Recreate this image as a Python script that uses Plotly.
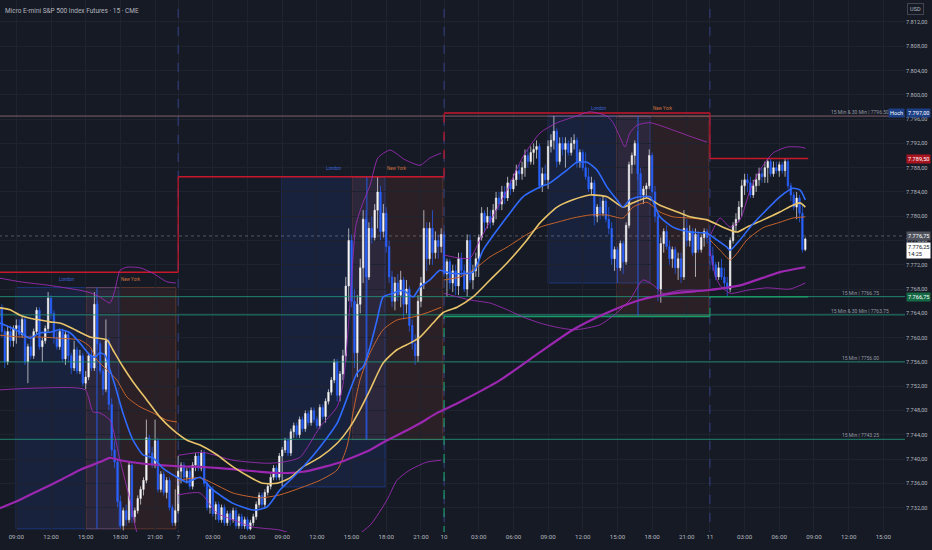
import plotly.graph_objects as go

# MES 15 min bars, bar 0 = 07:30 on the 6th. no bars 23:00-00:00 and over the weekend
# (open, high, low, close)
BARS_6 = [
    (7763.5, 7766, 7762.5, 7765), (7765, 7765.5, 7760, 7761), (7761, 7761.5, 7755, 7756), (7756, 7762, 7755.5, 7761),
    (7761, 7762, 7758.5, 7759.5), (7759.5, 7762, 7758.5, 7761.5), (7761.5, 7763, 7759, 7762), (7762, 7763, 7760, 7760.5),
    (7760.5, 7763.5, 7760, 7763), (7763, 7763.5, 7755.5, 7756), (7756, 7759, 7752.5, 7758.5), (7758.5, 7760.5, 7756.5, 7757),
    (7757, 7761.5, 7756.5, 7761), (7761, 7765, 7760.5, 7764.5), (7764.5, 7765, 7758, 7758.5), (7758.5, 7760, 7756, 7759.5),
    (7759.5, 7762, 7759, 7761.5), (7761.5, 7767.5, 7761, 7766.5), (7766.5, 7767, 7763, 7764), (7764, 7764.5, 7759, 7760),
    (7760, 7761, 7758, 7758.5), (7758.5, 7761.5, 7758, 7761), (7761, 7761.5, 7756, 7756.5), (7756.5, 7761, 7755.5, 7760.5),
    (7760.5, 7761, 7756, 7757), (7757, 7757.5, 7754, 7755), (7755, 7759.5, 7754.5, 7758), (7758, 7758.5, 7754, 7754.5),
    (7754.5, 7758, 7754, 7757), (7757, 7757.5, 7752, 7752.5), (7752.5, 7754.5, 7751.5, 7753.5), (7753.5, 7757.5, 7753, 7757),
    (7757, 7758, 7754.5, 7755), (7755, 7767.5, 7754.5, 7765.5), (7765.5, 7766, 7758, 7759), (7759, 7759.5, 7754, 7754.5),
    (7754.5, 7755, 7750.5, 7751.5), (7751.5, 7763, 7751, 7759.5), (7759.5, 7760, 7748, 7749), (7749, 7750, 7740.5, 7741.5),
    (7741.5, 7743, 7738.5, 7739.5), (7739.5, 7740, 7732, 7733), (7733, 7734, 7728.5, 7729), (7729, 7732, 7728.25, 7731.5),
    (7731.5, 7732.5, 7729, 7730), (7730, 7739.5, 7729.5, 7739), (7739, 7739.5, 7729.5, 7730.5), (7730.5, 7732, 7729.5, 7731.5),
    (7731.5, 7734, 7731, 7733.5), (7733.5, 7735.5, 7732.5, 7735), (7735, 7737, 7734, 7736.5), (7736.5, 7746.5, 7736, 7743.5),
    (7743.5, 7744, 7740, 7741), (7741, 7742, 7738.5, 7739), (7739, 7746.5, 7738.5, 7743), (7743, 7743.5, 7734.5, 7735),
    (7735, 7738, 7734.5, 7737.5), (7737.5, 7738, 7734, 7734.5), (7734.5, 7737, 7733.5, 7736.5), (7736.5, 7737, 7731.5, 7732),
    (7732, 7732.5, 7729, 7729.5), (7729.5, 7735, 7729, 7731.5),
]
BARS_7 = [
    (7731.5, 7740.5, 7731, 7738), (7738, 7739.5, 7736, 7739), (7739, 7739.5, 7736.5, 7737), (7737, 7738.5, 7736, 7738),
    (7738, 7738.5, 7735, 7735.5), (7735.5, 7739.5, 7735, 7739), (7739, 7741, 7738, 7740.5), (7740.5, 7741, 7738, 7738.5),
    (7738.5, 7741.5, 7738, 7741), (7741, 7741.5, 7735.5, 7736), (7736, 7736.5, 7731.5, 7732), (7732, 7735.5, 7731, 7735),
    (7735, 7735.5, 7730.5, 7731), (7731, 7733, 7730, 7732.5), (7732.5, 7733, 7729.5, 7730), (7730, 7732.5, 7729.5, 7732),
    (7732, 7732.5, 7729, 7729.5), (7729.5, 7731.5, 7729, 7731), (7731, 7731.5, 7729, 7730), (7730, 7732, 7729.5, 7731.5),
    (7731.5, 7732, 7728.5, 7729), (7729, 7731, 7728.5, 7730.5), (7730.5, 7731, 7728.5, 7729), (7729, 7730.5, 7728.5, 7730),
    (7730, 7730.5, 7728.25, 7728.5), (7728.5, 7730, 7728.25, 7729.5), (7729.5, 7731, 7729, 7730.5), (7730.5, 7733, 7730, 7732.5),
    (7732.5, 7734.5, 7732, 7734), (7734, 7734.5, 7732, 7732.5), (7732.5, 7735, 7732, 7734.5), (7734.5, 7736, 7734, 7735.5),
    (7735.5, 7737.5, 7735, 7737), (7737, 7739, 7736.5, 7738.5), (7738.5, 7739, 7736.5, 7737), (7737, 7741, 7736.5, 7740.5),
    (7740.5, 7742, 7735.5, 7741.5), (7741.5, 7743.5, 7741, 7743), (7743, 7743.5, 7740.5, 7741), (7741, 7745, 7740.5, 7744.5),
    (7744.5, 7746, 7743.5, 7745.5), (7745.5, 7746, 7743.5, 7744), (7744, 7747, 7743.5, 7746.5), (7746.5, 7747, 7744.5, 7745),
    (7745, 7748, 7744.5, 7747.5), (7747.5, 7748, 7745.5, 7746), (7746, 7748.5, 7745.5, 7748), (7748, 7748.5, 7746, 7746.5),
    (7746.5, 7747, 7745, 7745.5), (7745.5, 7749, 7745, 7748.5), (7748.5, 7749, 7746.5, 7747), (7747, 7750, 7746, 7749.5),
    (7749.5, 7751.5, 7749, 7751), (7751, 7753.5, 7750.5, 7753), (7753, 7756.5, 7752.5, 7756), (7756, 7756.5, 7749.5, 7750.5),
    (7750.5, 7754.5, 7749.5, 7754), (7754, 7758, 7753, 7757), (7757, 7770, 7756, 7768.5), (7768.5, 7778, 7766, 7776),
    (7776, 7777, 7765, 7766), (7766, 7768, 7755, 7757.5), (7757.5, 7767, 7753.5, 7765.5), (7765.5, 7773, 7764, 7771.5),
    (7771.5, 7781, 7769, 7779.5), (7779.5, 7781, 7743.25, 7770), (7770, 7779, 7769.5, 7778), (7778, 7780, 7775.5, 7776.5),
    (7776.5, 7782, 7776, 7781), (7781, 7786.5, 7778, 7784), (7784, 7785, 7776, 7777.5), (7777.5, 7782, 7776.5, 7780.5),
    (7780.5, 7781.5, 7774, 7775), (7775, 7776, 7769, 7770), (7770, 7771, 7765, 7766), (7766, 7770, 7764.5, 7769),
    (7769, 7770.5, 7766, 7767), (7767, 7771, 7765, 7769.5), (7769.5, 7770, 7763, 7765.5), (7765.5, 7769.5, 7764, 7768),
    (7768, 7768.5, 7761, 7762), (7762, 7763, 7758, 7759), (7759, 7760.5, 7755.5, 7757), (7757, 7767, 7756, 7766),
    (7766, 7770, 7765, 7769), (7769, 7781, 7768, 7778), (7778, 7779, 7771, 7773), (7773, 7779, 7772, 7778),
    (7778, 7781, 7772, 7774), (7774, 7777.5, 7773, 7776), (7776, 7777, 7773, 7775), (7775, 7778, 7774, 7777),
]
BARS_10 = [
    (7777, 7777.5, 7770, 7770.5), (7770.5, 7773, 7766.75, 7772.5), (7772.5, 7773, 7768, 7769), (7769, 7772, 7767.5, 7771),
    (7771, 7772, 7767, 7768.5), (7768.5, 7774, 7767, 7773), (7773, 7774, 7770, 7771), (7771, 7772, 7767.5, 7768),
    (7768, 7777, 7766.75, 7776), (7776, 7777, 7769, 7769.5), (7769.5, 7772, 7768, 7771), (7771, 7774, 7770, 7773),
    (7773, 7777, 7770, 7776.5), (7776.5, 7781.5, 7776, 7780.5), (7780.5, 7781, 7777.5, 7779), (7779, 7781.5, 7778, 7780),
    (7780, 7781, 7778, 7779), (7779, 7782, 7778.5, 7781), (7781, 7784, 7779.5, 7783), (7783, 7784, 7781, 7782),
    (7782, 7785, 7781, 7784), (7784, 7785, 7782, 7783), (7783, 7786.5, 7782.5, 7785.5), (7785.5, 7786, 7783.5, 7784.5),
    (7784.5, 7787, 7784, 7786), (7786, 7788.5, 7785, 7787.5), (7787.5, 7788.5, 7786, 7787), (7787, 7789, 7786, 7788),
    (7788, 7791, 7786.5, 7790), (7790, 7791, 7788, 7789), (7789, 7791.5, 7788.5, 7790.5), (7790.5, 7792, 7788.5, 7791),
    (7791, 7792.5, 7789.5, 7791.5), (7791.5, 7792, 7784.5, 7785), (7785, 7788, 7784, 7787), (7787, 7788.5, 7785, 7786),
    (7786, 7792.5, 7784.5, 7791.5), (7791.5, 7793.5, 7790.5, 7792.5), (7792.5, 7796.5, 7791, 7794), (7794, 7794.5, 7788, 7789),
    (7789, 7793, 7788.5, 7792), (7792, 7793, 7790, 7791), (7791, 7793, 7788, 7792), (7792, 7792.5, 7790, 7790.5),
    (7790.5, 7793, 7790, 7792), (7792, 7793.5, 7791, 7792.5), (7792.5, 7793, 7788, 7789), (7789, 7791, 7788, 7790.5),
    (7790.5, 7791, 7787.5, 7788), (7788, 7790.5, 7786, 7786.5), (7786.5, 7788, 7784, 7784.5), (7784.5, 7786.5, 7783.5, 7785.5),
    (7785.5, 7786, 7778.5, 7780), (7780, 7782, 7779, 7781.5), (7781.5, 7783, 7779.5, 7780.5), (7780.5, 7783.5, 7780, 7782.5),
    (7782.5, 7783, 7779, 7779.5), (7779.5, 7781.5, 7777, 7778), (7778, 7779, 7772, 7773), (7773, 7775, 7771, 7774.5),
    (7774.5, 7775, 7769, 7771.5), (7771.5, 7776, 7771, 7775.5), (7775.5, 7776, 7770.5, 7772.5), (7772.5, 7779, 7772, 7778.5),
    (7778.5, 7789, 7778, 7788.5), (7788.5, 7790.5, 7787, 7790), (7790, 7792.5, 7788.5, 7792), (7792, 7794, 7786, 7787),
    (7787, 7788, 7782.5, 7783.5), (7783.5, 7785, 7782, 7784.5), (7784.5, 7785.5, 7783, 7785), (7785, 7791, 7784.5, 7790),
    (7790, 7790.5, 7783, 7784), (7784, 7785, 7779, 7780), (7780, 7781, 7766, 7768), (7768, 7776.5, 7765.75, 7775.5),
    (7775.5, 7778, 7774, 7777.5), (7777.5, 7778.5, 7774.5, 7775), (7775, 7776, 7772, 7773), (7773, 7775, 7771.5, 7774.5),
    (7774.5, 7775, 7770.5, 7771.5), (7771.5, 7774, 7769.5, 7773), (7773, 7774, 7769, 7770), (7770, 7781, 7769.5, 7778),
    (7778, 7779.5, 7775, 7776), (7776, 7778.5, 7775, 7777.5), (7777.5, 7778, 7773.5, 7774), (7774, 7778, 7770, 7777),
    (7777, 7777.5, 7774, 7774.5), (7774.5, 7777, 7774, 7776.5), (7776.5, 7778, 7775, 7777.5), (7777.5, 7778, 7775.5, 7776.5),
]
BARS_11 = [
    (7776.5, 7777, 7772, 7773.5), (7773.5, 7775, 7771, 7772), (7772, 7772.5, 7769.5, 7770), (7770, 7772.5, 7769.5, 7771.5),
    (7771.5, 7773, 7769.5, 7770), (7770, 7771.5, 7768, 7769), (7769, 7770, 7766.75, 7768), (7768, 7776.5, 7767.5, 7776),
    (7776, 7779, 7775.5, 7778.5), (7778.5, 7780.5, 7777.5, 7779.5), (7779.5, 7782.5, 7779, 7781.5), (7781.5, 7786, 7780, 7785),
    (7785, 7787, 7783.5, 7786), (7786, 7787, 7784, 7785.5), (7785.5, 7786.5, 7783, 7783.5), (7783.5, 7786, 7783, 7785),
    (7785, 7787, 7784, 7786), (7786, 7788, 7785, 7787), (7787, 7788, 7785.5, 7786.5), (7786.5, 7789, 7785.5, 7788),
    (7788, 7789.5, 7785.5, 7789), (7789, 7789.5, 7786.5, 7787), (7787, 7789, 7786.5, 7788), (7788, 7789, 7787, 7787.5),
    (7787.5, 7789, 7786.5, 7788.5), (7788.5, 7789, 7787, 7787.5), (7787.5, 7789.5, 7786.5, 7789), (7789, 7789.5, 7784.5, 7785),
    (7785, 7785.5, 7782.5, 7783.5), (7783.5, 7784, 7781, 7781.5), (7781.5, 7784, 7779.5, 7783), (7783, 7783.5, 7779, 7780.5),
    (7780.5, 7782, 7774, 7774.5), (7774.5, 7776.5, 7774.25, 7776.25),
]

# indicator lines: (bar, price)
EMA_FAST = [
    (0.3, 7762.4), (3.8, 7761.7), (7.3, 7760.9), (10.7, 7759.9), (14.2, 7760.8), (17.6, 7760.9), (21.1, 7761.3),
    (24.6, 7760.8), (28.0, 7759.1), (31.5, 7757.1), (33.2, 7756.8), (34.9, 7757.5), (36.7, 7757.1), (38.4, 7754.7),
    (40.1, 7752.2), (42.9, 7747.6), (46.4, 7743.1), (49.8, 7740.7), (53.3, 7740.2), (56.7, 7738.5), (61.6, 7737.0),
    (65.1, 7736.2), (69.6, 7737.0), (74.0, 7734.9), (81.0, 7732.7), (87.9, 7731.6), (92.7, 7732.1), (97.2, 7734.9),
    (100.7, 7736.5), (105.2, 7738.7), (111.1, 7742.0), (117.0, 7745.9), (121.5, 7751.4), (123.9, 7754.2), (126.0, 7755.2),
    (128.4, 7758.5), (130.8, 7762.9), (132.9, 7766.7), (136.3, 7767.3), (139.8, 7767.8), (143.3, 7766.7), (145.7, 7768.3),
    (149.1, 7769.5), (152.6, 7771.1), (156.1, 7770.6), (164.0, 7770.8), (167.5, 7774.4), (175.8, 7779.9), (181.3, 7783.2),
    (187.2, 7784.8), (190.7, 7785.5), (196.5, 7787.6), (200.0, 7788.9), (203.5, 7788.9), (206.9, 7787.6), (210.4, 7784.8),
    (213.8, 7782.7), (215.9, 7781.5), (218.3, 7782.7), (221.8, 7783.2), (225.3, 7783.2), (228.7, 7779.9), (233.2, 7778.2),
    (239.1, 7777.4), (245.0, 7777.2), (248.4, 7776.1), (251.9, 7774.9), (253.0, 7774.4), (256.4, 7776.1), (259.9, 7778.2),
    (264.4, 7780.5), (270.2, 7783.2), (274.7, 7784.6), (277.2, 7784.3), (279.0, 7782.7),
]
EMA_SLOW = [
    (0.3, 7764.9), (3.8, 7764.6), (7.3, 7763.7), (10.7, 7763.2), (14.2, 7762.9), (17.6, 7762.6), (21.1, 7762.4),
    (24.6, 7761.7), (28.0, 7760.9), (31.5, 7760.1), (37.4, 7759.6), (39.4, 7758.0), (42.9, 7755.2), (46.4, 7752.7),
    (51.2, 7749.7), (55.7, 7746.9), (60.2, 7744.8), (65.1, 7743.1), (69.6, 7742.3), (75.4, 7740.7), (81.0, 7738.7),
    (86.9, 7737.0), (91.3, 7736.0), (96.2, 7736.0), (100.7, 7736.9), (105.2, 7738.7), (111.1, 7740.3), (117.0, 7742.6),
    (121.5, 7745.3), (124.9, 7748.1), (128.4, 7751.4), (132.9, 7755.8), (137.7, 7758.0), (142.2, 7759.1), (145.7, 7760.1),
    (150.2, 7762.4), (153.6, 7764.1), (158.5, 7765.0), (164.0, 7766.7), (169.9, 7769.5), (175.8, 7772.3), (182.7, 7776.1),
    (187.2, 7778.9), (193.1, 7781.5), (198.6, 7782.7), (204.5, 7783.5), (210.4, 7783.2), (215.9, 7781.5), (219.4, 7782.2),
    (224.2, 7783.0), (228.7, 7781.8), (233.2, 7781.0), (239.1, 7779.9), (245.0, 7779.4), (250.5, 7778.2), (255.4, 7777.4),
    (258.8, 7778.2), (264.4, 7779.4), (270.2, 7780.7), (274.7, 7781.8), (277.2, 7782.2), (279.0, 7781.5),
]
EMA_LONG = [
    (0.3, 7731.9), (7.3, 7733.3), (14.2, 7734.9), (21.1, 7736.5), (28.0, 7738.2), (34.9, 7739.5), (38.4, 7740.2),
    (41.9, 7739.8), (48.8, 7739.3), (55.7, 7739.0), (62.6, 7738.8), (69.6, 7738.7), (76.5, 7738.5), (83.4, 7738.2),
    (90.3, 7737.9), (97.2, 7737.7), (105.2, 7737.9), (117.0, 7739.3), (122.5, 7740.3), (128.4, 7741.5), (134.3, 7743.1),
    (139.8, 7744.4), (145.7, 7745.9), (151.6, 7747.6), (156.1, 7748.6), (159.5, 7749.4), (173.4, 7753.0), (187.2, 7757.6),
    (198.6, 7761.3), (210.4, 7764.1), (221.8, 7766.2), (233.2, 7767.3), (245.0, 7767.8), (256.4, 7768.6), (270.2, 7770.8),
    (279.0, 7771.6),
]
# session vwap (resets each day) and its bands, one list per day
VWAP = [
    [(0.3, 7760.4), (7.3, 7760.1), (14.2, 7760.1), (21.1, 7759.9), (28.0, 7759.6), (31.5, 7758.5), (33.9, 7756.3),
     (37.4, 7754.7), (40.8, 7753.0), (44.3, 7750.2), (48.8, 7748.6), (53.3, 7747.6), (58.1, 7746.4), (61.6, 7746.1)],
    [(62.0, 7736.5), (69.6, 7736.9), (81.0, 7734.4), (90.3, 7733.6), (97.2, 7734.1), (105.2, 7735.4), (111.1, 7736.5),
     (117.0, 7738.2), (120.4, 7742.0), (122.5, 7747.6), (124.9, 7753.0), (128.4, 7757.5), (132.9, 7761.3), (137.7, 7762.9),
     (143.3, 7763.4), (148.1, 7764.1), (153.0, 7765.0)],
    [(154.0, 7769.5), (159.5, 7770.0), (164.0, 7771.1), (169.9, 7773.3), (175.8, 7774.9), (181.3, 7776.6), (187.2, 7778.2),
     (193.1, 7779.0), (198.6, 7779.7), (204.5, 7780.2), (210.4, 7780.2), (215.9, 7779.7), (219.4, 7781.5), (224.2, 7782.3),
     (228.7, 7780.7), (233.2, 7779.9), (239.1, 7779.7), (245.0, 7779.4)],
    [(246.0, 7776.1), (249.5, 7774.4), (253.0, 7772.8), (255.4, 7773.9), (258.8, 7776.1), (264.4, 7778.1), (270.2, 7779.0),
     (274.7, 7779.7), (279.0, 7779.9)],
]
VWAP_UP = [
    [(0.3, 7769.8), (7.3, 7769.2), (17.6, 7768.6), (28.0, 7767.8), (31.5, 7767.4), (34.9, 7766.7), (38.4, 7765.7),
     (40.1, 7767.8), (41.9, 7771.1), (44.3, 7771.6), (48.8, 7771.5), (53.3, 7770.6), (58.1, 7769.2), (61.2, 7769.0)],
    [(62.0, 7740.6), (70.6, 7741.1), (81.0, 7739.8), (92.7, 7739.3), (98.3, 7739.5), (104.2, 7740.3), (111.1, 7745.3),
     (117.0, 7748.6), (119.0, 7752.2), (120.8, 7761.3), (122.2, 7771.1), (123.5, 7778.5), (125.6, 7781.8), (128.4, 7785.1),
     (131.1, 7789.6), (135.3, 7790.9), (140.5, 7789.3), (145.7, 7788.4), (149.1, 7789.6), (153.0, 7790.4)],
    [(154.0, 7773.6), (159.5, 7773.1), (163.0, 7773.1), (166.4, 7776.1), (175.8, 7784.3), (181.3, 7789.8), (187.2, 7793.7),
     (193.1, 7795.4), (198.6, 7796.3), (204.5, 7797.2), (210.4, 7796.5), (212.5, 7795.4), (214.9, 7793.0), (216.6, 7791.4),
     (218.3, 7793.7), (220.8, 7795.0), (225.3, 7795.4), (233.2, 7794.2), (240.1, 7793.0), (245.0, 7792.2)],
    [(246.0, 7776.7), (249.5, 7779.7), (253.0, 7778.2), (256.4, 7779.4), (259.9, 7784.3), (263.3, 7787.6), (267.8, 7790.4),
     (272.7, 7791.4), (277.2, 7791.4), (279.0, 7791.2)],
]
VWAP_DN = [
    [(0.3, 7751.4), (14.2, 7751.7), (29.8, 7751.4), (32.5, 7747.8), (34.9, 7747.6), (38.4, 7746.4), (41.9, 7739.8),
     (45.3, 7733.3), (48.8, 7726.7), (61.2, 7723.4)],
    [(62.0, 7734.1), (69.6, 7734.4), (75.4, 7731.1), (81.0, 7730.0), (87.9, 7728.8), (97.2, 7728.3), (107.6, 7726.7),
     (118.0, 7725.8), (128.4, 7729.1), (134.3, 7733.3), (137.7, 7736.5), (142.2, 7738.2), (148.1, 7739.5), (153.0, 7739.8)],
    [(154.0, 7767.3), (163.0, 7766.2), (169.9, 7765.7), (175.8, 7764.6), (181.3, 7763.4), (187.2, 7762.4), (193.1, 7761.7),
     (199.3, 7761.3), (207.9, 7762.1), (213.8, 7764.1), (218.3, 7766.2), (222.8, 7769.5), (226.3, 7768.7), (229.8, 7767.3),
     (235.6, 7767.8), (245.0, 7767.8)],
    [(246.0, 7774.4), (247.8, 7770.3), (249.5, 7768.6), (253.0, 7767.3), (258.8, 7767.8), (265.7, 7768.2), (273.7, 7768.0),
     (279.0, 7769.0)],
]

# day high / low steps
DAY_START = [0, 62, 154, 246]
DAY_END = [62, 154, 246, 280]
DAY_HIGH = [7770.75, 7786.5, 7797.0, 7789.5]
DAY_LOW = [None, 7727.5, 7763.5, 7766.75]

# session boxes: first bar, last bar, high, low
LONDON = [(5.9, 41.5, 7768.25, 7728.5), (97.9, 133.6, 7786.5, 7735.4), (190.0, 225.3, 7796.5, 7769.0)]
NEW_YORK = [(30.1, 61.2, 7768.25, 7728.5), (122.1, 153.6, 7786.5, 7743.2), (213.8, 245.7, 7796.5, 7763.6)]
NY_MARK = [33.9, 127.3, 221.1]

LEVELS = [7796.50, 7766.75, 7763.75, 7756.00, 7743.25]
LEVEL_TEXT = ['15 Min & 30 Min | 7796.50', '15 Min | 7766.75', '15 Min & 30 Min | 7763.75',
              '15 Min | 7756.00', '15 Min | 7743.25']
LAST_ASK = 7776.75

TIME_TICKS = [6, 18, 30, 42, 54, 62, 74, 86, 98, 110, 122, 134, 146, 154, 166, 178, 190, 202, 214, 226, 238,
              246, 258, 270, 282, 294, 306]
TIME_TEXT = ['09:00', '12:00', '15:00', '18:00', '21:00', '7', '03:00', '06:00', '09:00', '12:00', '15:00', '18:00',
             '21:00', '10', '03:00', '06:00', '09:00', '12:00', '15:00', '18:00', '21:00', '11', '03:00', '06:00',
             '09:00', '12:00', '15:00']
PRICE_TICKS = [7732, 7736, 7740, 7744, 7748, 7752, 7756, 7760, 7764, 7768, 7772, 7776, 7780, 7784, 7788, 7792,
               7796, 7800, 7804, 7808, 7812]
PRICE_TEXT = ['7.732,00', '7.736,00', '7.740,00', '7.744,00', '7.748,00', '7.752,00', '7.756,00', '7.760,00',
              '7.764,00', '7.768,00', '7.772,00', '7.776,00', '7.780,00', '7.784,00', '7.788,00', '7.792,00',
              '7.796,00', '7.800,00', '7.804,00', '7.808,00', '7.812,00']

BG = '#161a25'
GRID = '#1f2330'
TXT = '#b2b5be'
FONT = 'Roboto, Liberation Sans, sans-serif'
BLUE = '#2962ff'
AX = 5.6   # price axis / badge font size


def line_trace(pts, color, width, dash='solid'):
    return go.Scatter(x=[p[0] for p in pts], y=[p[1] for p in pts], mode='lines',
                      line=dict(color=color, width=width, dash=dash, shape='spline', smoothing=0.6),
                      hoverinfo='skip')


fig = go.Figure()

# session boxes
shapes = []
for x0, x1, top, bot in LONDON:
    shapes.append(dict(type='rect', xref='x', yref='y', x0=x0, x1=x1, y0=bot, y1=top, layer='below',
                       fillcolor='rgba(41,98,255,0.11)', line=dict(color='rgba(41,98,255,0.35)', width=1)))
for x0, x1, top, bot in NEW_YORK:
    shapes.append(dict(type='rect', xref='x', yref='y', x0=x0, x1=x1, y0=bot, y1=top, layer='below',
                       fillcolor='rgba(255,100,40,0.09)', line=dict(color='rgba(230,110,60,0.3)', width=1)))

# day separators
for d in DAY_START[1:]:
    fig.add_trace(go.Scatter(x=[d, d], y=[7700, 7830], mode='lines', hoverinfo='skip',
                             line=dict(color='rgba(70,85,190,0.6)', width=1, dash='dash')))

# horizontal levels
for lv in LEVELS[1:]:
    fig.add_trace(go.Scatter(x=[0, 314], y=[lv, lv], mode='lines', hoverinfo='skip',
                             line=dict(color='rgba(34,150,125,0.85)', width=1)))
fig.add_trace(go.Scatter(x=[0, 314], y=[LEVELS[0], LEVELS[0]], mode='lines', hoverinfo='skip',
                         line=dict(color='rgba(220,150,160,0.55)', width=1)))
fig.add_trace(go.Scatter(x=[0, 314], y=[LAST_ASK, LAST_ASK], mode='lines', hoverinfo='skip',
                         line=dict(color='rgba(160,165,175,0.45)', width=1, dash='dot')))

# NY marker lines
for m, (x0, x1, top, bot) in zip(NY_MARK, NEW_YORK):
    fig.add_trace(go.Scatter(x=[m, m], y=[bot, top], mode='lines', hoverinfo='skip',
                             line=dict(color='rgba(41,98,255,0.85)', width=1)))

# day high / low steps
hx, hy, lx, ly = [], [], [], []
for k in range(len(DAY_START)):
    hx += [DAY_START[k], DAY_END[k], None]
    hy += [DAY_HIGH[k], DAY_HIGH[k], None]
    if DAY_LOW[k] is not None:
        lx += [DAY_START[k], DAY_END[k], None]
        ly += [DAY_LOW[k], DAY_LOW[k], None]
fig.add_trace(go.Scatter(x=hx, y=hy, mode='lines', hoverinfo='skip', line=dict(color='#c8162a', width=1.5)))
fig.add_trace(go.Scatter(x=lx, y=ly, mode='lines', hoverinfo='skip', line=dict(color='#1a9a6a', width=1.5)))
for k in range(1, len(DAY_START)):
    dash = 'dash' if k == 2 else 'solid'
    fig.add_trace(go.Scatter(x=[DAY_START[k]] * 2, y=[DAY_HIGH[k - 1], DAY_HIGH[k]], mode='lines',
                             hoverinfo='skip', line=dict(color='#c8162a', width=1.2, dash=dash)))
    if DAY_LOW[k - 1] is not None:
        fig.add_trace(go.Scatter(x=[DAY_START[k]] * 2, y=[DAY_LOW[k - 1], DAY_LOW[k]], mode='lines',
                                 hoverinfo='skip', line=dict(color='#1a9a6a', width=1.2, dash='dash')))

# candles
bars = BARS_6 + BARS_7 + BARS_10 + BARS_11
idx = list(range(len(bars)))
fig.add_trace(go.Candlestick(
    x=idx, open=[b[0] for b in bars], high=[b[1] for b in bars],
    low=[b[2] for b in bars], close=[b[3] for b in bars],
    increasing=dict(line=dict(color='#e8e8ea', width=0.7), fillcolor='#ffffff'),
    decreasing=dict(line=dict(color=BLUE, width=0.7), fillcolor=BLUE),
    whiskerwidth=0, hoverinfo='skip'))

# indicators
for seg in VWAP_UP + VWAP_DN:
    fig.add_trace(line_trace(seg, 'rgba(160,45,185,0.85)', 1))
for seg in VWAP:
    fig.add_trace(line_trace(seg, '#c8642d', 1))
fig.add_trace(line_trace(EMA_LONG, '#9c27b0', 2.2))
fig.add_trace(line_trace(EMA_SLOW, '#e9c46a', 1.6))
fig.add_trace(line_trace(EMA_FAST, '#2f6bff', 1.6))

# annotations
ann = [dict(xref='paper', yref='paper', x=0, y=1, xanchor='left', yanchor='top', xshift=3, yshift=-5,
            text='Micro E-mini S&P 500 Index Futures · 15 · CME', showarrow=False,
            font=dict(size=6.5, color=TXT))]
for (x0, x1, top, bot) in LONDON:
    ann.append(dict(x=(x0 + x1) / 2, y=top, yshift=8, text='London', showarrow=False,
                    font=dict(size=4.5, color='#3a63d8')))
for (x0, x1, top, bot) in NEW_YORK:
    ann.append(dict(x=(x0 + x1) / 2, y=top, yshift=8, text='New York', showarrow=False,
                    font=dict(size=4.5, color='#d0703c')))
for lv, t in zip(LEVELS, LEVEL_TEXT):
    ann.append(dict(x=298, y=lv, yanchor='bottom', yshift=-1, text=t, showarrow=False,
                    font=dict(size=5, color='#9598a1')))

badges = [(DAY_HIGH[2], '7.797,00', '#1d3f86', 'white'), (DAY_HIGH[3], '7.789,50', '#a8141f', 'white'),
          (LAST_ASK, '7.776,75', '#50535e', 'white'), (DAY_LOW[3], '7.766,75', '#146a45', 'white')]
for y, t, bg, fc in badges:
    ann.append(dict(xref='paper', x=1, y=y, xanchor='left', yanchor='middle', xshift=1, text=t,
                    showarrow=False, bgcolor=bg, borderpad=1, font=dict(size=AX, color=fc)))
ann.append(dict(xref='paper', x=1, y=DAY_HIGH[2], xanchor='right', yanchor='middle', xshift=0, text='Hoch',
                showarrow=False, bgcolor='#1d3f86', borderpad=1, font=dict(size=AX, color='white')))
ann.append(dict(xref='paper', x=1, y=LAST_ASK, xanchor='left', yanchor='top', xshift=1, yshift=-6,
                text='7.776,25<br>14:25', showarrow=False, bgcolor='#ffffff', borderpad=1, align='left',
                font=dict(size=AX, color='#131722')))
ann.append(dict(xref='paper', yref='paper', x=1, y=1, xanchor='left', yanchor='top', xshift=2, yshift=-3,
                text='USD', showarrow=False, bgcolor=BG, bordercolor='#434651', borderwidth=1, borderpad=2,
                font=dict(size=AX, color=TXT)))

fig.update_layout(
    width=932, height=550, margin=dict(l=0, r=27, t=0, b=18),
    paper_bgcolor=BG, plot_bgcolor=BG, showlegend=False,
    font=dict(family=FONT, size=6, color=TXT),
    shapes=shapes, annotations=ann,
    xaxis=dict(range=[0.35, 313.5], tickvals=TIME_TICKS, ticktext=TIME_TEXT, showgrid=True, gridcolor=GRID,
               zeroline=False, showline=False, ticks='', rangeslider=dict(visible=False),
               tickfont=dict(size=6.2, color=TXT)),
    yaxis=dict(range=[7727.98, 7815.62], side='right', tickvals=PRICE_TICKS, ticktext=PRICE_TEXT,
               showgrid=True, gridcolor=GRID, zeroline=False, showline=False, ticks='',
               tickfont=dict(size=AX, color=TXT)),
)

fig.write_html("out.html", config={'displayModeBar': False},
               post_script="document.body.style.margin='0';document.body.style.overflow='hidden';")
